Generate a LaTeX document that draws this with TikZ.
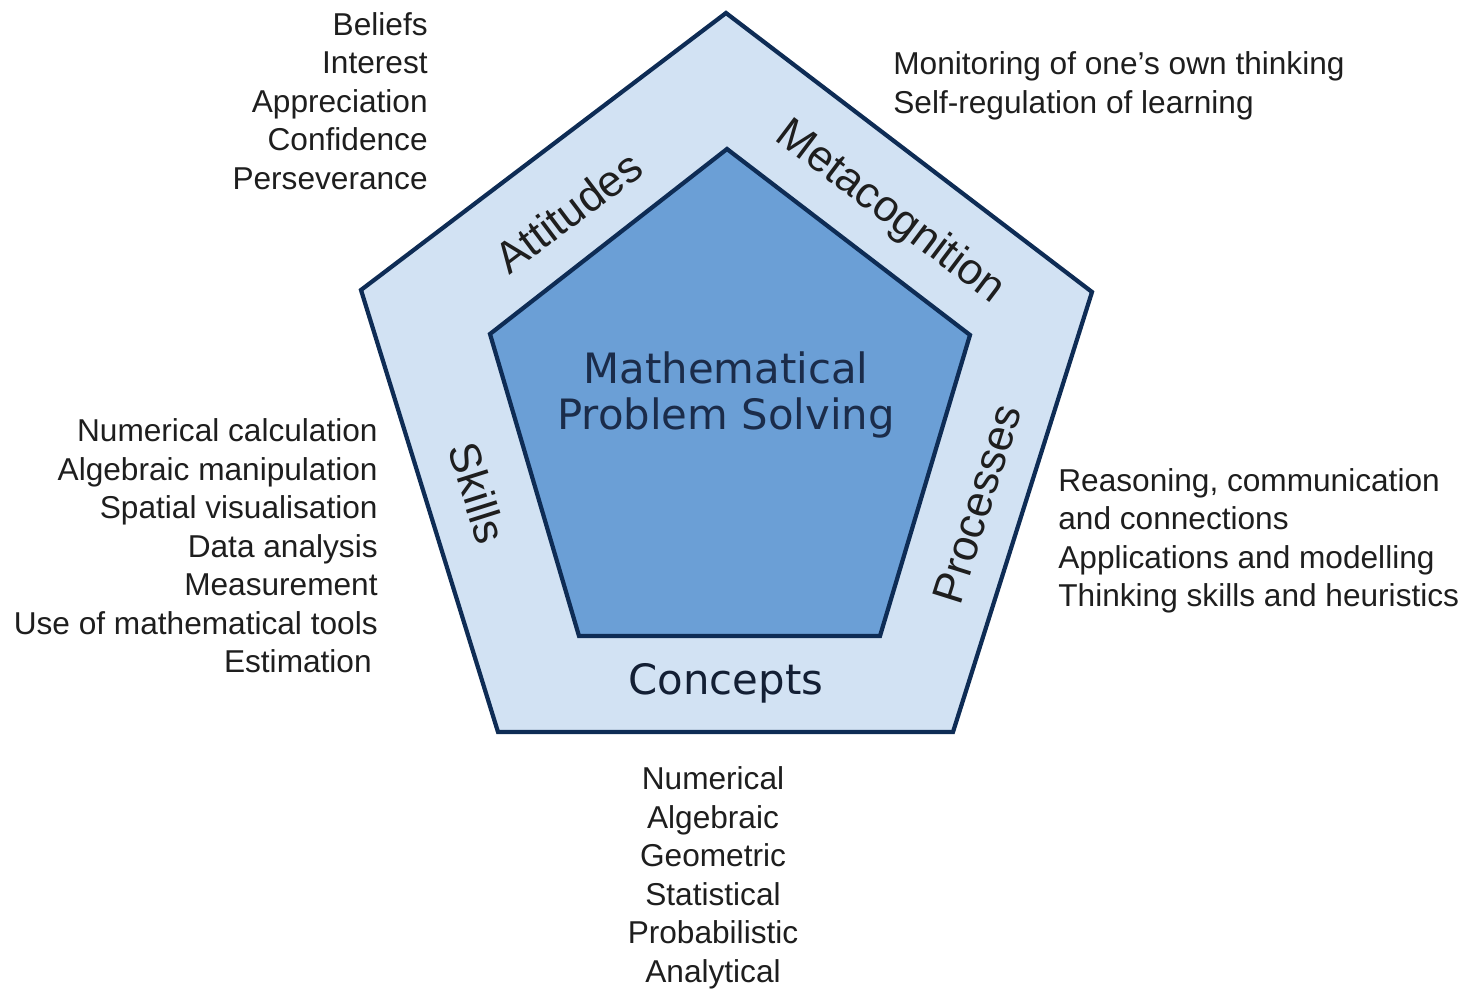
\documentclass[tikz,border=0pt]{standalone}
\usepackage{fontspec}
\setmainfont{Liberation Sans}
\newfontfamily\titlefont{DejaVu Sans}
\definecolor{ringblue}{HTML}{D2E2F3}
\definecolor{coreblue}{HTML}{6B9FD6}
\definecolor{edgenavy}{HTML}{0E2C55}
\definecolor{titlenavy}{HTML}{1B2C4A}
\definecolor{inktext}{HTML}{1E1E1E}
\tikzset{
  itemlist/.style={font=\fontsize{18}{21.9}\selectfont, text=inktext, inner sep=0pt},
  sidelabel/.style={font=\fontsize{25}{30}\selectfont, text=inktext, inner sep=0pt},
  pentaedge/.style={draw=edgenavy, line width=2.4pt, line join=miter}
}
\begin{document}
\begin{tikzpicture}[x=0.02cm, y=-0.02cm]
  \useasboundingbox (0,0) rectangle (1478,989);
  % the two pentagons
  \draw[pentaedge, fill=ringblue] (726,13) -- (1092,292) -- (953,732)
    -- (498,732) -- (361,290) -- cycle;
  \draw[pentaedge, fill=coreblue] (727,149) -- (970,335) -- (880,636)
    -- (579,636) -- (490,334) -- cycle;
  % centre and ring labels
  \node[align=center, inner sep=0pt, text=titlenavy,
    font=\titlefont\fontsize{23.8}{26.7}\selectfont] (core) at (726,395)
    {Mathematical\\Problem Solving};
  \node[sidelabel, font=\titlefont\fontsize{23.8}{28}\selectfont, text=titlenavy!70!black]
    (concepts) at (726,683) {Concepts};
  \node[sidelabel, rotate=37] (attitudes) at (568,212) {Attitudes};
  \node[sidelabel, rotate=-37] (metacognition) at (890,213) {Metacognition};
  \node[sidelabel, rotate=72.5] (processes) at (977,504) {Processes};
  \node[sidelabel, rotate=-72.5] (skills) at (478,493) {Skills};
  % lists round the pentagon
  \node[itemlist, align=right, anchor=east] (attitudeslist) at (428,101)
    {Beliefs\\Interest\\Appreciation\\Confidence\\Perseverance};
  \node[itemlist, align=left, anchor=west] (metacognitionlist) at (893,86)
    {Monitoring of one's own thinking\\Self-regulation of learning};
  \node[itemlist, align=right, anchor=east] (skillslist) at (378,546)
    {Numerical calculation\\Algebraic manipulation\\Spatial visualisation\\
     Data analysis\\Measurement\\Use of mathematical tools\\Estimation\hspace*{3.4pt}};
  \node[itemlist, align=left, anchor=west] (processeslist) at (1058,541)
    {Reasoning, communication\\and connections\\Applications and modelling\\
     Thinking skills and heuristics};
  \node[itemlist, align=center] (conceptslist) at (713,878)
    {Numerical\\Algebraic\\Geometric\\Statistical\\Probabilistic\\Analytical};
\end{tikzpicture}
\end{document}
